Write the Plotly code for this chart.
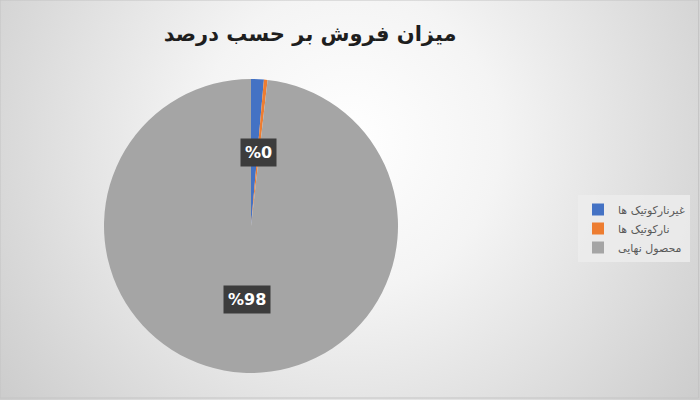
import base64
import math
import plotly.graph_objects as go

# ---- data ----
labels = ["غیرنارکوتیک ها", "نارکوتیک ها", "محصول نهایی"]
values = [1.4, 0.4, 98.2]
shown_labels = ["", "%0", "%98"]
colors = ["#4472C4", "#ED7D31", "#A5A5A5"]
title_text = "میزان فروش بر حسب درصد"

W, H = 700, 400
FONT = "DejaVu Sans"
LRM = "\u200e"

# pie geometry (pixels)
cx_px, cy_px, r_px = 251, 226, 147
dom_x = [(cx_px - r_px) / W, (cx_px + r_px) / W]
dom_y = [(H - cy_px - r_px) / H, (H - cy_px + r_px) / H]

fig = go.Figure()
fig.add_trace(go.Pie(
    labels=[LRM + s for s in labels],
    values=values,
    sort=False,
    direction="clockwise",
    rotation=0,
    marker=dict(colors=colors, line=dict(width=0)),
    textinfo="none",
    hoverinfo="label+percent",
    domain=dict(x=dom_x, y=dom_y),
))

# data labels placed at half radius along each slice's mid angle
total = sum(values)
start = 0.0
annotations = []
for v, t in zip(values, shown_labels):
    mid = start + v / 2
    start += v
    if not t:
        continue
    ang = 2 * math.pi * mid / total  # clockwise from top
    px = cx_px + 0.5 * r_px * math.sin(ang)
    py = cy_px - 0.5 * r_px * math.cos(ang)
    annotations.append(dict(
        x=px / W, y=1 - py / H, xref="paper", yref="paper",
        xanchor="center", yanchor="middle",
        text="<b>" + t + "</b>", showarrow=False,
        font=dict(family=FONT, size=16, color="white"),
        bgcolor="#3c3c3c", borderpad=4,
    ))

svg = f'''<svg xmlns="http://www.w3.org/2000/svg" width="{W}" height="{H}" viewBox="0 0 {W} {H}" preserveAspectRatio="none">
<defs><radialGradient id="g" gradientUnits="userSpaceOnUse" cx="350" cy="140" r="430">
<stop offset="0" stop-color="#ffffff"/><stop offset="0.35" stop-color="#f4f4f4"/>
<stop offset="1" stop-color="#cdcdcd"/></radialGradient></defs>
<rect width="{W}" height="{H}" fill="url(#g)"/></svg>'''
src = "data:image/svg+xml;base64," + base64.b64encode(svg.encode()).decode()

fig.update_layout(
    width=W, height=H,
    margin=dict(l=0, r=0, t=0, b=0),
    paper_bgcolor="#e8e8e8",
    title=dict(text="<b>" + title_text + "</b>", x=0.443, xanchor="center",
               y=0.915, yanchor="middle",
               font=dict(family=FONT, size=21, color="#1e1e1e")),
    showlegend=True,
    legend=dict(x=578 / W, y=1 - 195 / H, xanchor="left", yanchor="top",
                bgcolor="rgba(236,236,236,0.85)",
                font=dict(family=FONT, size=11, color="#595959"),
                itemwidth=30),
    annotations=annotations,
    images=[dict(source=src, xref="paper", yref="paper", x=0, y=1,
                 sizex=1, sizey=1, xanchor="left", yanchor="top",
                 sizing="stretch", layer="below")],
    shapes=[dict(type="rect", xref="paper", yref="paper", x0=0, y0=0.005, x1=0.998, y1=1,
                 line=dict(color="#c4c4c4", width=1))],
)

fig.write_html("out.html", config={"displayModeBar": False},
               post_script="document.body.style.margin='0';")
